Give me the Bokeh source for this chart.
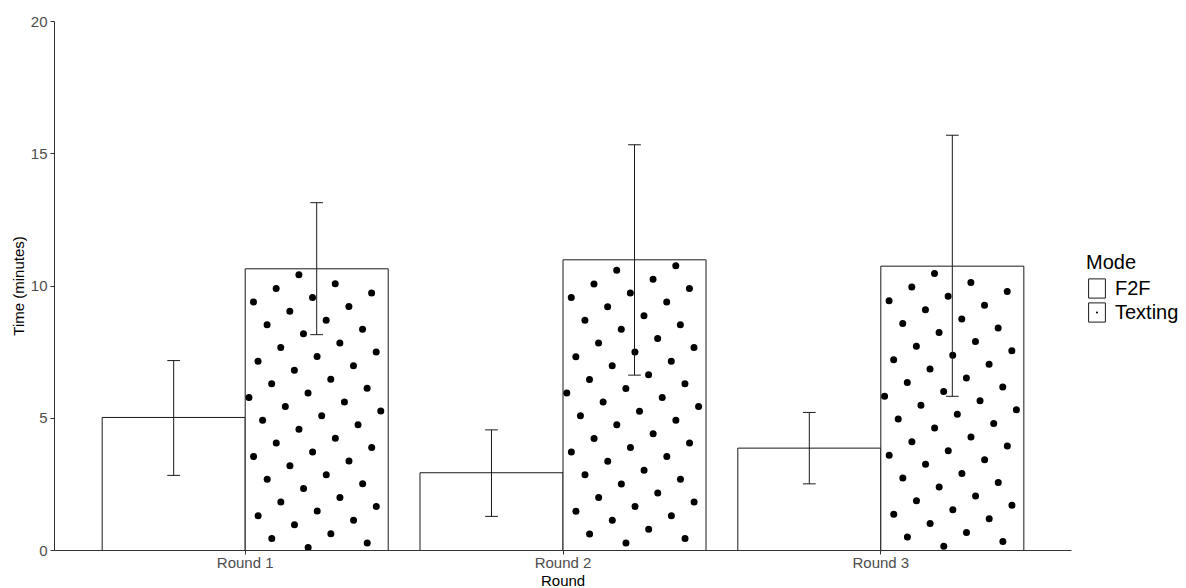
import math

from bokeh.plotting import figure
from bokeh.models import (Range1d, FixedTicker, Legend, LegendItem,
                          ColumnDataSource, Title)
from bokeh.embed import file_html
from bokeh.resources import INLINE

# Mean completion time per round, with error-bar limits (minutes)
rounds = ["Round 1", "Round 2", "Round 3"]
f2f_mean = [5.03, 2.94, 3.87]
f2f_low = [2.84, 1.29, 2.52]
f2f_high = [7.18, 4.56, 5.22]
texting_mean = [10.65, 10.99, 10.75]
texting_low = [8.16, 6.63, 5.83]
texting_high = [13.15, 15.34, 15.70]
y_ticks = [0, 5, 10, 15, 20]

BAR_W = 0.45      # each dodged bar (0.9 total per group)
CAP_W = 0.04      # error-bar cap width
FONT = "Liberation Sans"
INK = "#1a1a1a"

# canvas / panel geometry (px); the frame runs to the right edge so the
# legend can sit beside the bars, and the x axis is bounded to the groups
W, H = 1186, 588
LEFT, TOP, BOTTOM = 54, 21, 38
PANEL_W = 1017                     # width used by the three groups
FRAME_W = W - LEFT
FRAME_H = H - TOP - BOTTOM
X0, X1 = 0.4, 3.6
Y0, Y1 = 0, 20
SX = PANEL_W / (X1 - X0)
SY = FRAME_H / (Y1 - Y0)
X_END = X0 + FRAME_W / SX

pos = [i + 1 for i in range(len(rounds))]


def group_source(offset, mean, low, high):
    x = [p + offset for p in pos]
    return ColumnDataSource(dict(
        x=x, top=mean, low=low, high=high,
        cap_l=[v - CAP_W / 2 for v in x], cap_r=[v + CAP_W / 2 for v in x],
    ))


def dot_fill(centers, tops, spacing=26.5, angle=31.0, inset=3.0):
    """Rotated square lattice of dots filling each bar (pattern fill)."""
    a = math.radians(angle)
    ux, uy = spacing * math.cos(a), spacing * math.sin(a)
    vx, vy = -uy, ux
    xs, ys = [], []
    for c, t in zip(centers, tops):
        l_px = (c - BAR_W / 2 - X0) * SX
        r_px = (c + BAR_W / 2 - X0) * SX
        t_px = (t - Y0) * SY
        ox, oy = (l_px + r_px) / 2 + 5, t_px / 2 - 6
        for n in range(-30, 31):
            for m in range(-30, 31):
                px = ox + n * ux + m * vx
                py = oy + n * uy + m * vy
                if l_px + inset <= px <= r_px - inset and inset <= py <= t_px - inset:
                    xs.append(X0 + px / SX)
                    ys.append(Y0 + py / SY)
    return ColumnDataSource(dict(x=xs, y=ys))


src_f2f = group_source(-BAR_W / 2, f2f_mean, f2f_low, f2f_high)
src_txt = group_source(BAR_W / 2, texting_mean, texting_low, texting_high)
src_dots = dot_fill(src_txt.data["x"], texting_mean)

p = figure(width=W, height=H, output_backend="svg", toolbar_location=None,
           x_range=Range1d(X0, X_END), y_range=Range1d(Y0, Y1),
           min_border_left=LEFT, min_border_top=TOP,
           min_border_bottom=BOTTOM, min_border_right=0)
p.outline_line_color = None
p.background_fill_color = "white"
p.border_fill_color = "white"
p.grid.visible = False

# bars
bars_f2f = p.vbar(x="x", top="top", bottom=0, width=BAR_W, source=src_f2f,
                  fill_color="white", line_color=INK, line_width=1)
bars_txt = p.vbar(x="x", top="top", bottom=0, width=BAR_W, source=src_txt,
                  fill_color="white", line_color=INK, line_width=1)
dots_txt = p.scatter(x="x", y="y", source=src_dots, marker="dot", size=28,
                     line_color="black", fill_color="black")

# error bars
for src in (src_f2f, src_txt):
    p.segment(x0="x", x1="x", y0="low", y1="high", source=src,
              line_color=INK, line_width=1)
    p.segment(x0="cap_l", x1="cap_r", y0="high", y1="high", source=src,
              line_color=INK, line_width=1)
    p.segment(x0="cap_l", x1="cap_r", y0="low", y1="low", source=src,
              line_color=INK, line_width=1)

# axes
p.xaxis.ticker = FixedTicker(ticks=pos)
p.xaxis.major_label_overrides = {pp: r for pp, r in zip(pos, rounds)}
p.xaxis.bounds = (X0, X1)
p.yaxis.ticker = FixedTicker(ticks=y_ticks)
for ax in (p.xaxis, p.yaxis):
    ax.axis_line_color = "#333333"
    ax.axis_line_width = 1
    ax.major_tick_line_color = "#333333"
    ax.major_tick_out = 4
    ax.major_tick_in = 0
    ax.minor_tick_line_color = None
    ax.major_label_text_font = FONT
    ax.major_label_text_font_size = "15px"
    ax.major_label_text_color = "#4d4d4d"
    ax.axis_label_text_font = FONT
    ax.axis_label_text_font_size = "15px"
    ax.axis_label_text_font_style = "normal"
    ax.axis_label_text_color = "black"
p.xaxis.major_label_standoff = -1
p.yaxis.major_label_standoff = 3
p.yaxis.axis_label = "Time (minutes)"
p.yaxis.axis_label_standoff = 1

# x-axis title, centred under the groups rather than the whole frame
x_title_w = 44  # approx. width of "Round" at 15px
p.add_layout(Title(text="Round", align="left",
                   offset=((X0 + X1) / 2 - X0) * SX - x_title_w / 2,
                   text_font=FONT, text_font_size="15px",
                   text_font_style="normal", text_color="black",
                   standoff=-8), "below")

legend = Legend(items=[
    LegendItem(label="F2F", renderers=[bars_f2f], index=0),
    LegendItem(label="Texting", renderers=[bars_txt, dots_txt], index=0),
], title="Mode", location=(PANEL_W + 15, 226), orientation="vertical",
   margin=0, padding=0, spacing=0,
   glyph_width=21, glyph_height=24, label_height=24,
   label_standoff=8, label_text_font=FONT, label_text_font_size="20px",
   label_text_color="black", title_text_font=FONT,
   title_text_font_size="20px", title_text_font_style="normal",
   title_text_color="black", title_standoff=2,
   border_line_color=None, background_fill_alpha=0)
p.add_layout(legend, "center")

open("out.html", "w").write(file_html(p, INLINE))
